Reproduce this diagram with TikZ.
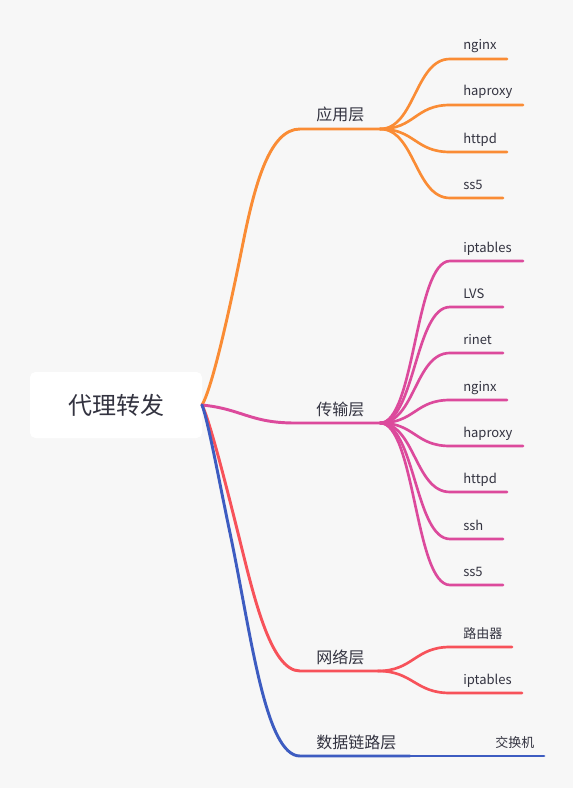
\documentclass[tikz,border=0pt]{standalone}
\usepackage{fontspec}
\setmainfont{Noto Sans CJK SC}
\definecolor{bg}{HTML}{F7F7F7}
\definecolor{txt}{HTML}{333340}
\definecolor{cA}{HTML}{FA8C35}
\definecolor{cB}{HTML}{DC4A9C}
\definecolor{cC}{HTML}{F7525A}
\definecolor{cD}{HTML}{3D5CC1}
\begin{document}
\begin{tikzpicture}[x=0.75pt,y=-0.75pt,
  rootbox/.style={fill=white, rounded corners=4pt, minimum width=129pt, minimum height=49.5pt,
    inner sep=0pt, outer sep=0pt, text=txt, font=\fontsize{18pt}{20pt}\selectfont},
  toplbl/.style={font=\fontsize{12pt}{14pt}\selectfont, text=txt, anchor=base west, inner sep=0pt},
  lbl/.style={font=\fontsize{9.75pt}{11pt}\selectfont, text=txt, anchor=base west, inner sep=0pt},
  br/.style={line width=2.2pt, line cap=round},
  sub/.style={line width=2pt, line cap=round}]
\fill[bg] (0,0) rectangle (573,788);
\node[rootbox] (root) at (116,405) {代理转发};

% 应用层
\coordinate (am) at (243,243);
\coordinate (app) at (300,129); \coordinate (appE) at (380,129);
\node[toplbl] (appL) at (316,121) {应用层};
\draw[br,cA] (root.east) .. controls +(12,-20) and +(-8,40) .. (am)
  .. controls +(12,-60) and +(-30,0) .. (app) -- (appE);
\foreach \y/\xe/\t [count=\i] in {59/507/nginx,105/523/haproxy,152/507/httpd,198/503/ss5}{
  \coordinate (a\i) at (450,\y); \coordinate (ae\i) at (\xe,\y);
  \node[lbl] (al\i) at (463,\y-9) {\t};
  \draw[sub,cA] (appE) .. controls +(35,0) and +(-35,0) .. (a\i) -- (ae\i);
}

% 传输层
\coordinate (tr) at (295,423); \coordinate (trE) at (380,423);
\node[toplbl] (trL) at (316,415) {传输层};
\draw[br,cB] (root.east) .. controls +(40,4) and +(-45,0) .. (tr) -- (trE);
\foreach \y/\xe/\t [count=\i] in {261/523/iptables,307/503/LVS,353/503/rinet,400/507/nginx,446/523/haproxy,492/507/httpd,539/503/ssh,585/503/ss5}{
  \coordinate (b\i) at (450,\y); \coordinate (be\i) at (\xe,\y);
  \node[lbl] (bl\i) at (463,\y-9) {\t};
  \draw[sub,cB] (trE) .. controls +(35,0) and +(-35,0) .. (b\i) -- (be\i);
}

% 网络层
\coordinate (cm) at (238,533);
\coordinate (nw) at (300,671); \coordinate (nwE) at (378,671);
\node[toplbl] (nwL) at (316,663) {网络层};
\draw[br,cC] (root.east) .. controls +(8,16) and +(-10,-40) .. (cm)
  .. controls +(15,60) and +(-30,0) .. (nw) -- (nwE);
\foreach \y/\xe/\t [count=\i] in {647/512/路由器,693/522/iptables}{
  \coordinate (c\i) at (450,\y); \coordinate (ce\i) at (\xe,\y);
  \node[lbl] (cl\i) at (463,\y-9) {\t};
  \draw[sub,cC] (nwE) .. controls +(35,0) and +(-35,0) .. (c\i) -- (ce\i);
}

% 数据链路层
\coordinate (dm) at (230,533);
\coordinate (dl) at (300,756); \coordinate (dlE) at (410,756); \coordinate (sw) at (544,756);
\node[toplbl] (dlL) at (316,748) {数据链路层};
\draw[br,cD] (root.east) .. controls +(6,15) and +(-9.5,-45) .. (dm)
  .. controls +(21,100) and +(-35,0) .. (dl) -- (dlE);
\node[lbl] (swL) at (495,747) {交换机};
\draw[sub,cD] (dlE) -- (sw);
\end{tikzpicture}
\end{document}
